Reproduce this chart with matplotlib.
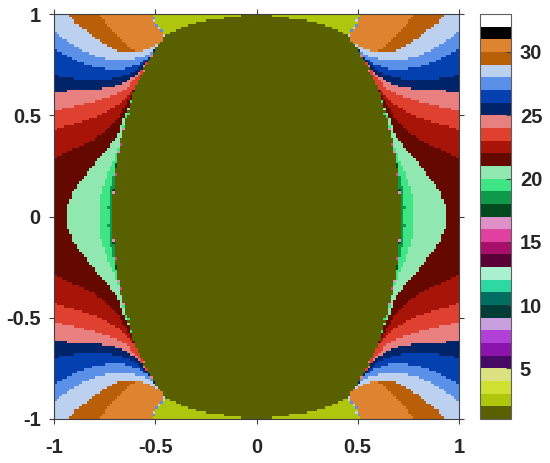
import matplotlib
matplotlib.use("Agg")
import matplotlib.pyplot as plt
import numpy as np
from matplotlib.colors import ListedColormap
from matplotlib.path import Path

plt.rcParams['font.family'] = ['Liberation Sans', 'DejaVu Sans']
plt.rcParams['font.weight'] = 'bold'

# one colour per unit of the colour scale, 1 to 33
colors = ['#586000', '#aec60c', '#cfe030', '#dbe080',
          '#470a66', '#8b14ad', '#b040d8', '#c8a0e0',
          '#003c38', '#006e60', '#2dd9a0', '#a8f0d0',
          '#5a0038', '#a80f6a', '#e040a0', '#e090c8',
          '#004a20', '#0f9a4a', '#3fe585', '#90e8b0',
          '#640800', '#a81408', '#e04030', '#e88080',
          '#00246a', '#0540b0', '#5a90e8', '#bcd0f0',
          '#b85f08', '#de8430', '#000000', '#ffffff']
cbar_ticks = [5, 10, 15, 20, 25, 30]
axis_ticks = [-1, -0.5, 0, 0.5, 1]
x_labels = ['-1', '-0.5', '0', '0.5', '1']
y_labels = ['-1', '-0.5', '0', '0.5', '1']

# lower edge of each band read from the upper left quarter (the rest mirrors it)
band22_x = [-1, -.918, -.835, -.753, -.687, -.638, -.613]
band22_y = [.287, .328, .361, .411, .485, .559, .608]
band23_x = [-1, -.918, -.835, -.753, -.687, -.630, -.605, -.580]
band23_y = [.427, .452, .477, .510, .551, .600, .625, .670]
band24_x = [-1, -.901, -.802, -.704, -.638, -.570]
band24_y = [.526, .542, .567, .600, .633, .720]
band25_x = [-1, -.901, -.802, -.720, -.638, -.588, -.547]
band25_y = [.617, .620, .625, .638, .666, .707, .757]
band26_x = [-1, -.918, -.835, -.753, -.671, -.605, -.556]
band26_y = [.699, .683, .671, .674, .691, .715, .757]
band27_x = [-1, -.951, -.885, -.802, -.720, -.638, -.572, -.523]
band27_y = [.822, .798, .770, .740, .727, .732, .757, .798]
band28_x = [-1, -.967, -.918, -.852, -.786, -.704, -.621, -.556, -.506, -.473]
band28_y = [.913, .888, .855, .814, .790, .773, .776, .790, .822, .847]
band29_x = [-.926, -.893, -.844, -.794, -.737, -.679, -.605, -.539, -.490, -.465]
band29_y = [1, .954, .921, .880, .842, .814, .811, .826, .847, .869]
band30_x = [-.781, -.737, -.679, -.630, -.588, -.539, -.490, -.465, -.452]
band30_y = [1, .946, .888, .831, .814, .826, .847, .869, .890]

# green lobes beside the oval
lobe20_x = [-.640, -.663, -.687, -.737, -.786, -.844, -.901, -.934, -.937]
lobe20_y = [.520, .468, .394, .337, .279, .205, .131, .057, 0]
lobe19_x = [-.640, -.654, -.679, -.712, -.745, -.770, -.778, -.778]
lobe19_y = [.510, .460, .345, .263, .188, .114, .032, 0]
lobe18_x = [-.687, -.704, -.723, -.732, -.728]
lobe18_y = [.295, .213, .131, .048, 0]
lobe17_x = [-.695, -.702, -.712, -.716]
lobe17_y = [.263, .180, .082, 0]

# central oval, from the top of the axes to y = 0
oval_x = [-.030, -.131, -.215, -.294, -.378, -.452, -.490, -.525, -.558,
          -.600, -.621, -.646, -.671, -.687, -.699, -.707, -.709]
oval_y = [1, .985, .975, .960, .931, .890, .840, .780, .730,
          .630, .559, .477, .378, .279, .197, .098, 0]
wedge_x = [-.522, -.452]
wedge_y = [1, .890]

# stray cells along the oval edge
stray_x = [-.704, -.695, -.679, -.671, -.658, -.510, -.500, -.490, -.480,
           -.470, -.460, -.540, -.560, -.580, -.620, -.635, -.630]
stray_y = [.120, .210, .320, .360, .430, .980, .965, .945, .930,
           .915, .900, .760, .720, .680, .570, .510, .530]
stray_z = [16.5, 15.5, 16.5, 15.5, 16.5, 27.5, 28.5, 27.5, 28.5,
           27.5, 28.5, 23.5, 24.5, 23.5, 19.5, 19.5, 20.5]

n = 160
edges = np.linspace(-1, 1, n + 1)
centers = (edges[:-1] + edges[1:]) / 2
gx, gy = np.meshgrid(centers, centers)
pts = np.column_stack([-np.abs(gx).ravel(), np.abs(gy).ravel()])

z = np.full(pts.shape[0], 21.5)


def paint(xs, ys, level):
    z[Path(np.column_stack([xs, ys])).contains_points(pts)] = level


top_left_x = [-.45, -.525, -1]
top_left_y = [.89, 1, 1]
for level, bx, by in [(22.5, band22_x, band22_y), (23.5, band23_x, band23_y),
                      (24.5, band24_x, band24_y), (25.5, band25_x, band25_y),
                      (26.5, band26_x, band26_y), (27.5, band27_x, band27_y),
                      (28.5, band28_x, band28_y)]:
    paint(bx + top_left_x, by + top_left_y, level)
paint(band29_x + [-.452, -.522], band29_y + [.89, 1], 29.5)
paint(band30_x + [-.522], band30_y + [1], 30.5)

for level, lx, ly in [(20.5, lobe20_x, lobe20_y), (19.5, lobe19_x, lobe19_y),
                      (18.5, lobe18_x, lobe18_y), (17.5, lobe17_x, lobe17_y)]:
    paint(lx + [-.5], ly + [0], level)

paint(wedge_x + oval_x[5::-1], wedge_y + oval_y[5::-1], 2.5)
paint(oval_x + [0, 0], oval_y + [-.001, 1.001], 1.5)
for sx, sy, sz in zip(stray_x, stray_y, stray_z):
    z[(np.abs(pts[:, 0] - sx) < .00625) & (np.abs(pts[:, 1] - sy) < .00625)] = sz
z = z.reshape(gx.shape)

cmap = ListedColormap(colors)
dark = '#262626'

fig = plt.figure(figsize=(5.5, 4.63), dpi=100)
ax = fig.add_axes([54 / 550, 1 - 419 / 463, 405 / 550, 405 / 463])
mesh = ax.pcolormesh(edges, edges, z, cmap=cmap, vmin=1, vmax=33)
ax.set_xlim(-1, 1)
ax.set_ylim(-1, 1)
ax.set_xticks(axis_ticks, x_labels)
ax.set_yticks(axis_ticks, y_labels)
ax.tick_params(direction='out', length=3.5, width=0.8, color='#404040',
               labelsize=14.5, labelcolor=dark, top=True, right=True)
ax.tick_params(axis='x', pad=10)
ax.tick_params(axis='y', pad=6)
for s in ax.spines.values():
    s.set_color('#404040')
    s.set_linewidth(0.8)

cax = fig.add_axes([480 / 550, 1 - 419 / 463, 31.5 / 550, 405 / 463])
cb = fig.colorbar(mesh, cax=cax, ticks=cbar_ticks)
cb.ax.tick_params(direction='in', length=3.5, width=0.8, color='#404040',
                  labelsize=14.5, labelcolor=dark, pad=6)
cb.outline.set_edgecolor('#606060')
cb.outline.set_linewidth(0.8)

fig.savefig('out.png', dpi=100)
